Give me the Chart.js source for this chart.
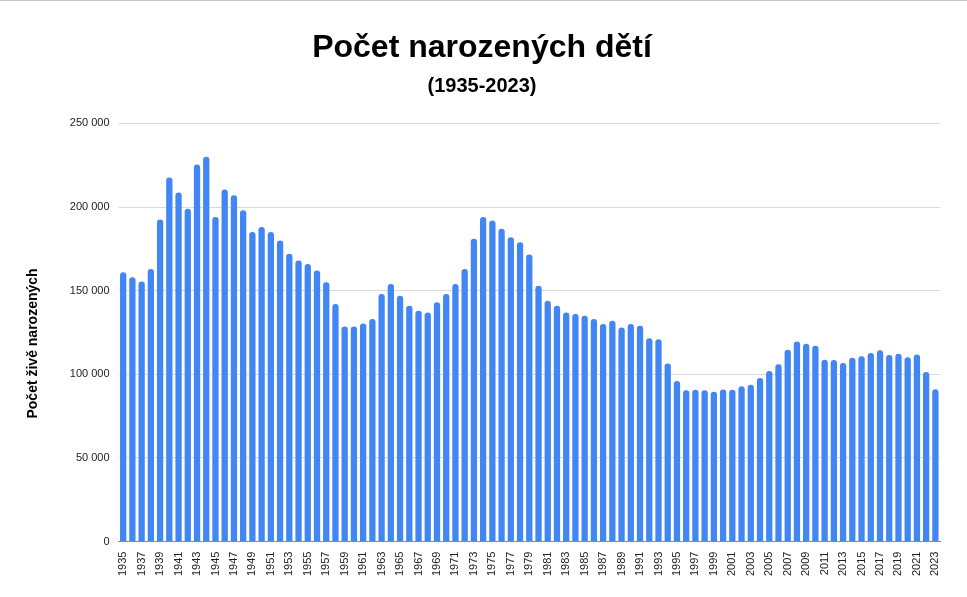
<!DOCTYPE html>
<html>
<head>
<meta charset="utf-8">
<script src="https://cdn.jsdelivr.net/npm/chart.js@4"></script>
<style>
  html, body { margin: 0; padding: 0; background: #fff; }
  #wrap { position: relative; width: 967px; height: 597px; }
  #topline { position: absolute; left: 0; top: 0; width: 967px; height: 1px; background: #c4c4c4; }
</style>
</head>
<body>
<div id="wrap"><canvas id="births" width="967" height="597"></canvas><div id="topline"></div></div>
<script>
// years 1935-2023
const years = [];
for (let y = 1935; y <= 2023; y++) years.push(String(y));

// live births per year
const births = [
  161000, 158000, 155500, 163000, 192500, 217700, 208700, 199000, 225400, 230000,
  194000, 210500, 207000, 198000, 185000, 188000, 185000, 180000, 172000, 168000,
  166000, 162000, 155000, 142000, 128500, 128500, 130400, 133000, 148000, 154000,
  147000, 141000, 138000, 137000, 143000, 148000, 154000, 163000, 181000, 194000,
  192000, 187000, 182000, 179000, 171600, 153000, 144000, 141000, 137000, 136000,
  135000, 133000, 130000, 132000, 128000, 130000, 129000, 121500, 121000, 106500,
  96000, 90500, 90700, 90500, 89500, 90900, 90700, 92800, 93700, 97700,
  102000, 106000, 114600, 119600, 118300, 117000, 108700, 108600, 106800, 109900,
  110800, 112700, 114400, 111600, 112200, 110200, 111800, 101300, 91100
];

const yTicks = [0, 50000, 100000, 150000, 200000, 250000];
const yTitle = 'Počet živě narozených';

const fmt = v => String(v).replace(/\B(?=(\d{3})+(?!\d))/g, ' ');

// axis title sits a bit lower than chart-area centre, like the original
const yTitlePlugin = {
  id: 'yTitle',
  afterDraw(chart) {
    const { ctx, chartArea } = chart;
    ctx.save();
    ctx.translate(33, (chartArea.top + chartArea.bottom) / 2 + 11);
    ctx.rotate(-Math.PI / 2);
    ctx.font = 'bold 14px "Liberation Sans", Arial';
    ctx.fillStyle = '#000';
    ctx.textAlign = 'center';
    ctx.textBaseline = 'middle';
    ctx.fillText(yTitle, 0, 0);
    ctx.restore();
  }
};

new Chart(document.getElementById('births'), {
  type: 'bar',
  data: {
    labels: years,
    datasets: [{
      label: yTitle,
      data: births,
      backgroundColor: '#4285F4',
      borderRadius: { topLeft: 3, topRight: 3 },
      borderSkipped: 'bottom',
      categoryPercentage: 1,
      barPercentage: 0.68
    }]
  },
  options: {
    responsive: false,
    animation: false,
    layout: { padding: { left: 24, right: 27, top: 17, bottom: 19 } },
    plugins: {
      legend: { display: false },
      tooltip: { enabled: false },
      title: {
        display: true,
        text: 'Počet narozených dětí',
        color: '#000',
        font: { family: 'Liberation Sans, Arial', size: 32, weight: 'bold' },
        padding: { top: 12, bottom: 7 }
      },
      subtitle: {
        display: true,
        text: '(1935-2023)',
        color: '#000',
        font: { family: 'Liberation Sans, Arial', size: 20, weight: 'bold' },
        padding: { bottom: 25 }
      }
    },
    scales: {
      x: {
        grid: { display: false },
        border: { color: '#8a8a8a' },
        ticks: {
          autoSkip: false,
          minRotation: 90,
          maxRotation: 90,
          color: '#222',
          padding: 2,
          font: { family: 'Liberation Sans, Arial', size: 11 },
          callback: (v, i) => (i % 2 === 0 ? years[i] : '')
        }
      },
      y: {
        min: 0,
        max: 250000,
        afterBuildTicks: axis => { axis.ticks = yTicks.map(v => ({ value: v })); },
        grid: { color: '#d9d9d9', drawTicks: false },
        border: { display: false },
        ticks: {
          color: '#222',
          padding: 9,
          font: { family: 'Liberation Sans, Arial', size: 11 },
          callback: v => fmt(v)
        },
        title: {
          display: true,
          text: yTitle,
          color: 'rgba(0,0,0,0)',
          padding: { bottom: 16 },
          font: { family: 'Liberation Sans, Arial', size: 14, weight: 'bold' }
        }
      }
    }
  },
  plugins: [yTitlePlugin]
});
</script>
</body>
</html>
